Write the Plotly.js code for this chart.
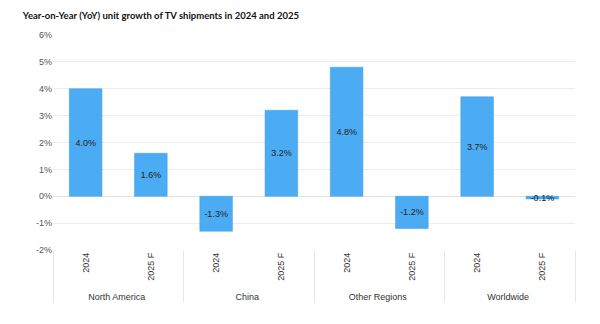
<!DOCTYPE html>
<html><head><meta charset="utf-8">
<script src="https://cdn.plot.ly/plotly-3.0.1.min.js"></script>
<style>html,body{margin:0;padding:0;background:#fff}#chart{width:600px;height:324px}</style>
</head><body><div id="chart"></div>
<script>
const regions = ["North America","North America","China","China","Other Regions","Other Regions","Worldwide","Worldwide"];
const periods = ["2024","2025 F","2024","2025 F","2024","2025 F","2024","2025 F"];
const growth = [4.0, 1.6, -1.3, 3.2, 4.8, -1.2, 3.7, -0.1];
const yTicks = [-2,-1,0,1,2,3,4,5,6];

const trace = {
  type: "bar",
  x: [regions, periods],
  y: growth,
  width: 0.5,
  marker: {color: "#4BACF3", line: {color: "#3A9BE0", width: 0.5}},
  text: growth.map(v => v.toFixed(1) + "%"),
  textposition: "inside",
  insidetextanchor: "middle",
  constraintext: "none",
  textfont: {family: "Liberation Sans, Arial, sans-serif", size: 9, color: "#222"},
  hoverinfo: "skip"
};

const layout = {
  width: 600, height: 324,
  margin: {l: 53, r: 25, t: 35, b: 74},
  paper_bgcolor: "#fff", plot_bgcolor: "#fff",
  showlegend: false,
  title: {text: "<b>Year-on-Year (YoY) unit growth of TV shipments in 2024 and 2025</b>",
    x: 0.038, xanchor: "left", y: 0.953, yanchor: "middle",
    font: {family: "Lato, Carlito, sans-serif", size: 9.5, color: "#111"}},
  xaxis: {
    type: "multicategory",
    tickangle: -90,
    tickfont: {family: "Liberation Sans, Arial, sans-serif", size: 9, color: "#333"},
    showdividers: true, dividercolor: "#e6e6e6", dividerwidth: 1,
    ticks: "", showgrid: false, zeroline: false, showline: false,
    automargin: false
  },
  yaxis: {
    range: [-2, 6],
    tickvals: yTicks,
    ticktext: yTicks.map(v => v + "%"),
    tickfont: {family: "Liberation Sans, Arial, sans-serif", size: 9, color: "#555"},
    showgrid: true, gridcolor: "#ececec", gridwidth: 1,
    zeroline: true, zerolinecolor: "#e2e2e2", zerolinewidth: 1,
    showline: false, ticks: "", ticklen: 0,
    automargin: false
  }
};

Plotly.newPlot("chart", [trace], layout, {staticPlot: true, displayModeBar: false});
</script></body></html>
